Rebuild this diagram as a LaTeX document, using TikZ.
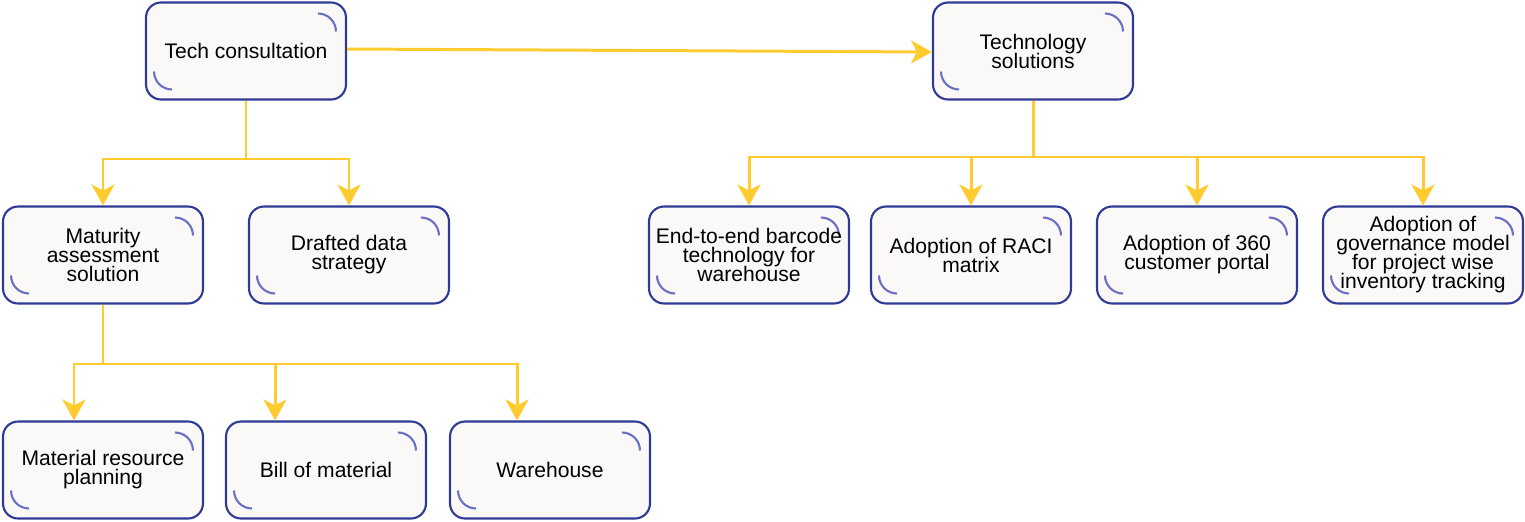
\documentclass[tikz,border=0pt]{standalone}
\usepackage{fontspec}
\setmainfont{Liberation Sans}
\usetikzlibrary{arrows.meta}
\definecolor{boxborder}{HTML}{2F3A96}
\definecolor{boxfill}{HTML}{FAF9F7}
\definecolor{arcblue}{HTML}{6B70C6}
\definecolor{gold}{HTML}{FFCB2E}
\newcommand{\cardfont}{\fontsize{12}{10.8}\selectfont\lineskiplimit=-20pt\relax\lineskip=0pt\relax}
\tikzset{
  card/.style={draw=boxborder, line width=1.2pt, fill=boxfill, rounded corners=0.3cm,
    minimum width=4cm, minimum height=1.94cm, inner sep=0pt, align=center,
    font=\cardfont,
    path picture={
      \draw[arcblue, line width=1.2pt]
        ([xshift=-0.56cm,yshift=-0.22cm]path picture bounding box.north east)
        arc[start angle=90, end angle=0, radius=0.36cm];
      \draw[arcblue, line width=1.2pt]
        ([xshift=0.16cm,yshift=0.56cm]path picture bounding box.south west)
        arc[start angle=180, end angle=270, radius=0.36cm];
    }},
  link/.style={draw=gold, line width=1.7pt},
  arrowlink/.style={link, -{Stealth[length=0.42cm, width=0.46cm, inset=0.12cm]}}
}
\begin{document}
\begin{tikzpicture}[x=0.02cm, y=-0.02cm]
\useasboundingbox (0,0) rectangle (1525,521);
% nodes
\node[card] (tc) at (246,51) {Tech consultation};
\node[card] (ts) at (1033,51) {Technology\\solutions};
\node[card] (mat) at (103,255) {Maturity\\assessment\\solution};
\node[card] (dds) at (349,255) {Drafted data\\strategy};
\node[card] (e2e) at (749,255) {End-to-end barcode\\technology for\\warehouse};
\node[card] (raci) at (971,255) {Adoption of RACI\\matrix};
\node[card] (c360) at (1197,255) {Adoption of 360\\customer portal};
\node[card] (gov) at (1423,255) {Adoption of\\governance model\\for project wise\\inventory tracking};
\node[card] (mrp) at (103,470) {Material resource\\planning};
\node[card] (bom) at (326,470) {Bill of material};
\node[card] (wh) at (550,470) {Warehouse};
% junctions
\coordinate (j1) at (246,159);
\coordinate (j2) at (1033,157);
\coordinate (j3) at (103,364);
% connectors
\draw[arrowlink] ([yshift=0.04cm]tc.east) -- ([yshift=-0.02cm]ts.west);
\draw[link] (tc.south) -- (j1);
\draw[arrowlink] (j1) -| (mat.north);
\draw[arrowlink] (j1) -| (dds.north);
\draw[link] (ts.south) -- (j2);
\draw[arrowlink] (j2) -| (e2e.north);
\draw[arrowlink] (j2) -| (raci.north);
\draw[arrowlink] (j2) -| (c360.north);
\draw[arrowlink] (j2) -| (gov.north);
\draw[link] (mat.south) -- (j3);
\draw[arrowlink] (j3) -| ([xshift=-0.58cm]mrp.north);
\draw[arrowlink] (j3) -| ([xshift=-1.02cm]bom.north);
\draw[arrowlink] (j3) -| ([xshift=-0.66cm]wh.north);
\end{tikzpicture}
\end{document}
